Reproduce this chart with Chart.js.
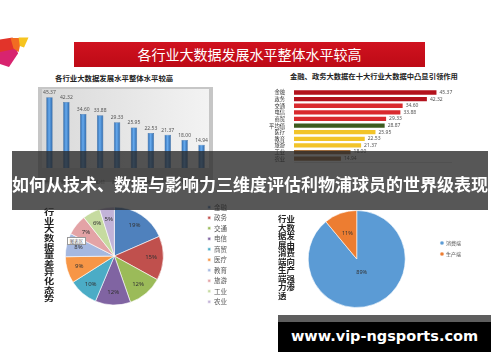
<!DOCTYPE html>
<html>
<head>
<meta charset="utf-8">
<title>各行业大数据发展水平</title>
<script src="https://cdn.jsdelivr.net/npm/chart.js@4.4.1/dist/chart.umd.min.js"></script>
<style>
  html, body { margin: 0; padding: 0; }
  body { width: 500px; height: 362px; position: relative; overflow: hidden; background: #fff;
         font-family: "Noto Sans CJK SC", "Noto Sans", sans-serif; }
  .box { position: absolute; }
  canvas { position: absolute; }
  .sub { font-weight: bold; color: #222; white-space: nowrap; }
  .vert { font-weight: bold; color: #222; transform-origin: left top; }
  .vert span { display: block; white-space: nowrap; overflow: visible; }
  .logo { position: absolute; }
</style>
</head>
<body>

<!-- little colour logo, top left -->
<div class="logo" style="left:0;top:37px;width:30px;height:30px;background:#d8246f;clip-path:polygon(0 25%,45% 5%,60% 55%,30% 100%,0 90%);"></div>
<div class="logo" style="left:0;top:37px;width:30px;height:30px;background:#e2342a;clip-path:polygon(0 8%,42% 2%,48% 40%,0 50%);"></div>
<div class="logo" style="left:0;top:37px;width:30px;height:30px;background:#f26c22;clip-path:polygon(35% 3%,72% 3%,62% 50%,45% 38%);"></div>
<div class="logo" style="left:0;top:37px;width:30px;height:30px;background:#f6c41f;clip-path:polygon(62% 2%,95% 2%,80% 35%,66% 30%);"></div>

<!-- red headline -->
<div class="box" style="left:74px;top:42px;width:351px;height:25px;background:linear-gradient(#d0121f,#bd0a16);color:#fff;font-size:14px;line-height:25px;text-align:center;">各行业大数据发展水平整体水平较高</div>

<div class="box sub" style="left:55px;top:73px;font-size:7.4px;line-height:9px;">各行业大数据发展水平整体水平较高</div>
<div class="box sub" style="left:290px;top:72px;font-size:7.3px;line-height:9px;">金融、政务大数据在十大行业大数据中凸显引领作用</div>

<canvas id="levelChart" width="190" height="100" style="left:30px;top:84px;"></canvas>
<canvas id="rankChart" width="207" height="89" style="left:258px;top:85px;"></canvas>
<canvas id="shareChart" width="212" height="112" style="left:25px;top:200px;"></canvas>
<canvas id="sideChart" width="192" height="108" style="left:279px;top:205px;"></canvas>

<div class="box vert" style="left:44px;top:208px;font-size:7.6px;transform:scaleX(1.35);">
  <span style="height:8.65px;line-height:8.65px">行</span><span style="height:8.65px;line-height:8.65px">业</span><span style="height:8.65px;line-height:8.65px">大</span><span style="height:8.65px;line-height:8.65px">数</span><span style="height:8.65px;line-height:8.65px">据</span><span style="height:8.65px;line-height:8.65px">量</span><span style="height:8.65px;line-height:8.65px">差</span><span style="height:8.65px;line-height:8.65px">异</span><span style="height:8.65px;line-height:8.65px">化</span><span style="height:8.65px;line-height:8.65px">态</span><span style="height:8.65px;line-height:8.65px">势</span>
</div>
<div class="box vert" style="left:278px;top:215px;font-size:7.8px;transform:scaleX(1.08);">
  <span style="height:8.5px;line-height:8.5px">行业</span><span style="height:8.5px;line-height:8.5px">大数</span><span style="height:8.5px;line-height:8.5px">据发</span><span style="height:8.5px;line-height:8.5px">展由</span><span style="height:8.5px;line-height:8.5px">消费</span><span style="height:8.5px;line-height:8.5px">端向</span><span style="height:8.5px;line-height:8.5px">生产</span><span style="height:8.5px;line-height:8.5px">端强</span><span style="height:8.5px;line-height:8.5px">力渗</span><span style="height:8.5px;line-height:8.5px">透</span>
</div>

<div class="box" style="left:67px;top:236.5px;width:17px;height:6.5px;border:0.5px solid #999;background:#fff;color:#666;font-size:4.5px;line-height:6.5px;text-align:center;">图表区</div>

<!-- overlay headline -->
<div class="box" style="left:12px;top:151px;width:476px;height:59px;background:rgba(40,40,40,0.78);"></div>
<div class="box" style="left:12px;top:174px;width:476px;height:20px;color:#fff;font-weight:bold;font-size:17px;line-height:20px;text-align:center;white-space:nowrap;">如何从技术、数据与影响力三维度评估利物浦球员的世界级表现</div>

<!-- site mark -->
<div class="box" style="left:278px;top:315px;width:213px;height:30px;background:#000;border-top:7px solid #5e5e5e;color:#fff;font-family:'DejaVu Sans',sans-serif;font-weight:bold;font-size:14.5px;line-height:29px;text-align:center;">www.vip-ngsports.com</div>

<script>
// 各行业大数据发展水平
var industries = ['金融', '政务', '交通', '电信', '商贸', '医疗', '教育', '旅游', '工业', '农业'];
var levelValues = [45.37, 42.32, 34.60, 33.88, 29.33, 25.95, 22.53, 21.37, 18.00, 14.94];

// ranking incl. the average row
var rankLabels = ['金融', '政务', '交通', '电信', '商贸', '平均值', '医疗', '教育', '旅游', '工业', '农业'];
var rankValues = [45.37, 42.32, 34.60, 33.88, 29.33, 28.87, 25.95, 22.53, 21.37, 18.00, 14.94];
var rankTicks = [0, 10, 20, 30, 40, 50];

// data volume share (%)
var shareValues = [19, 15, 12, 12, 10, 9, 8, 7, 6, 5];

// consumer side vs producer side (%)
var sideLabels = ['消费端', '生产端'];
var sideValues = [89, 11];

var rankColors = ['#b3121d', '#b3121d', '#d92a2e', '#d92a2e', '#d92a2e', '#3d5b1f',
                  '#f2c42a', '#f2c42a', '#f2c42a', '#9c6b3c', '#9c6b3c'];
var sharePalette = ['#4f81bd', '#c0504d', '#9bbb59', '#8064a2', '#4bacc6',
                    '#f79646', '#a5b8e0', '#e3a3a6', '#c6dba0', '#c2b3d8'];
var sidePalette = ['#5b9bd5', '#ed7d31'];

Chart.defaults.font.family = '"Noto Sans CJK SC", "Noto Sans", sans-serif';

// numbers next to / above the bars
var valueLabels = {
    id: 'valueLabels',
    afterDatasetsDraw: function(chart, args, opts) {
        var ctx = chart.ctx;
        var meta = chart.getDatasetMeta(0);
        var vals = chart.data.datasets[0].data;
        ctx.save();
        ctx.font = opts.font;
        ctx.fillStyle = opts.color;
        meta.data.forEach(function(bar, i) {
            var txt = vals[i].toFixed(2);
            if (chart.options.indexAxis === 'y') {
                ctx.textAlign = 'left';
                ctx.textBaseline = 'middle';
                ctx.fillText(txt, bar.x + 3, bar.y);
            } else {
                ctx.textAlign = 'center';
                ctx.textBaseline = 'bottom';
                ctx.fillText(txt, bar.x, bar.y - 2);
            }
        });
        ctx.restore();
    }
};

// percent text inside the slices
var sliceLabels = {
    id: 'sliceLabels',
    afterDatasetsDraw: function(chart, args, opts) {
        var ctx = chart.ctx;
        var meta = chart.getDatasetMeta(0);
        var vals = chart.data.datasets[0].data;
        ctx.save();
        ctx.font = opts.font;
        ctx.fillStyle = opts.color;
        ctx.textAlign = 'center';
        ctx.textBaseline = 'middle';
        meta.data.forEach(function(arc, i) {
            var p = arc.getProps(['x', 'y', 'startAngle', 'endAngle', 'outerRadius'], true);
            var mid = (p.startAngle + p.endAngle) / 2;
            var f = Array.isArray(opts.offset) ? opts.offset[i] : opts.offset;
            ctx.fillText(vals[i] + '%', p.x + Math.cos(mid) * p.outerRadius * f,
                                         p.y + Math.sin(mid) * p.outerRadius * f);
        });
        ctx.restore();
    }
};

// grey "3d wall" behind the column chart
var wallBg = {
    id: 'wallBg',
    beforeDraw: function(chart) {
        var ctx = chart.ctx, a = chart.chartArea;
        ctx.save();
        ctx.fillStyle = '#c6c6c6';
        ctx.fillRect(a.left - 3, a.top, a.right - a.left + 6, a.bottom - a.top + 14);
        var g = ctx.createLinearGradient(a.left, 0, a.right, 0);
        g.addColorStop(0, '#d9d9d9');
        g.addColorStop(1, '#f3f3f3');
        ctx.fillStyle = g;
        ctx.fillRect(a.left + 1, a.top + 2, a.right - a.left - 2, a.bottom - a.top - 2);
        ctx.restore();
    }
};

function cylinder(c) {
    var chart = c.chart;
    if (!chart.chartArea || c.type !== 'data') return '#3f86d0';
    var x = chart.scales.x.getPixelForValue(c.dataIndex);
    var g = chart.ctx.createLinearGradient(x - 3.2, 0, x + 3.2, 0);
    g.addColorStop(0, '#2a64a6');
    g.addColorStop(0.45, '#66aaee');
    g.addColorStop(1, '#2a64a6');
    return g;
}

var levelChart = new Chart(document.getElementById('levelChart'), {
    type: 'bar',
    data: {
        labels: industries,
        datasets: [{
            data: levelValues,
            backgroundColor: cylinder,
            borderColor: '#2b5f99',
            borderWidth: 0.5,
            barPercentage: 0.38,
            categoryPercentage: 1
        }]
    },
    options: {
        responsive: false,
        animation: false,
        layout: { padding: { left: 11, right: 10, top: 3, bottom: 0 } },
        plugins: {
            legend: { display: false },
            tooltip: { enabled: false },
            valueLabels: { font: '5px "Noto Sans"', color: '#555' }
        },
        scales: {
            x: {
                grid: { display: false },
                border: { display: false },
                ticks: { font: { size: 5 }, color: '#666', padding: 3, maxRotation: 0, autoSkip: false },
                afterFit: function(s) { s.height = 16; }
            },
            y: { display: false, min: 0, max: 52 }
        }
    },
    plugins: [wallBg, valueLabels]
});

var rankChart = new Chart(document.getElementById('rankChart'), {
    type: 'bar',
    data: {
        labels: rankLabels,
        datasets: [{
            data: rankValues,
            backgroundColor: rankColors,
            barPercentage: 0.65,
            categoryPercentage: 1
        }]
    },
    options: {
        indexAxis: 'y',
        responsive: false,
        animation: false,
        layout: { padding: { top: 4, right: 14, left: 0, bottom: 0 } },
        plugins: {
            legend: { display: false },
            tooltip: { enabled: false },
            valueLabels: { font: '5px "Noto Sans"', color: '#555' }
        },
        scales: {
            x: {
                min: rankTicks[0],
                max: rankTicks[rankTicks.length - 1],
                grid: { display: false },
                border: { display: true, color: '#c8c8c8', width: 0.6 },
                ticks: { font: { size: 4.8 }, color: '#777', padding: 4,
                         callback: function(v) { return Number(v).toFixed(2); } },
                afterBuildTicks: function(s) { s.ticks = rankTicks.map(function(v) { return { value: v }; }); },
                afterFit: function(s) { s.height = 12; }
            },
            y: {
                grid: { display: false },
                border: { display: false },
                ticks: { font: { size: 5.3 }, color: '#333', padding: 1, autoSkip: false },
                afterFit: function(s) { s.width = 36; }
            }
        }
    },
    plugins: [valueLabels]
});

var shareChart = new Chart(document.getElementById('shareChart'), {
    type: 'pie',
    data: {
        labels: industries,
        datasets: [{
            data: shareValues,
            backgroundColor: sharePalette,
            borderColor: '#fff',
            borderWidth: 0.6,
            radius: 49
        }]
    },
    options: {
        responsive: false,
        animation: false,
        plugins: {
            legend: {
                position: 'right',
                align: 'start',
                labels: { boxWidth: 3, boxHeight: 3, padding: 4, font: { size: 6.5, lineHeight: 1 }, color: '#555' }
            },
            tooltip: { enabled: false },
            sliceLabels: { font: '6px "Noto Sans"', color: '#333', offset: 0.75 }
        }
    },
    plugins: [sliceLabels]
});

var sideChart = new Chart(document.getElementById('sideChart'), {
    type: 'pie',
    data: {
        labels: sideLabels,
        datasets: [{
            data: sideValues,
            backgroundColor: sidePalette,
            borderColor: '#fff',
            borderWidth: 0.6,
            radius: 48.5,
            clip: false
        }]
    },
    options: {
        responsive: false,
        animation: false,
        layout: { padding: { top: 29.5, bottom: 29.5, left: 0, right: 0 } },
        plugins: {
            legend: {
                position: 'right',
                align: 'start',
                labels: { usePointStyle: true, pointStyle: 'circle', boxWidth: 3, boxHeight: 3,
                          padding: 6, font: { size: 5, lineHeight: 1 }, color: '#555' }
            },
            tooltip: { enabled: false },
            sliceLabels: { font: '5.5px "Noto Sans"', color: '#333', offset: [0.3, 0.57] }
        }
    },
    plugins: [sliceLabels]
});
</script>
</body>
</html>
